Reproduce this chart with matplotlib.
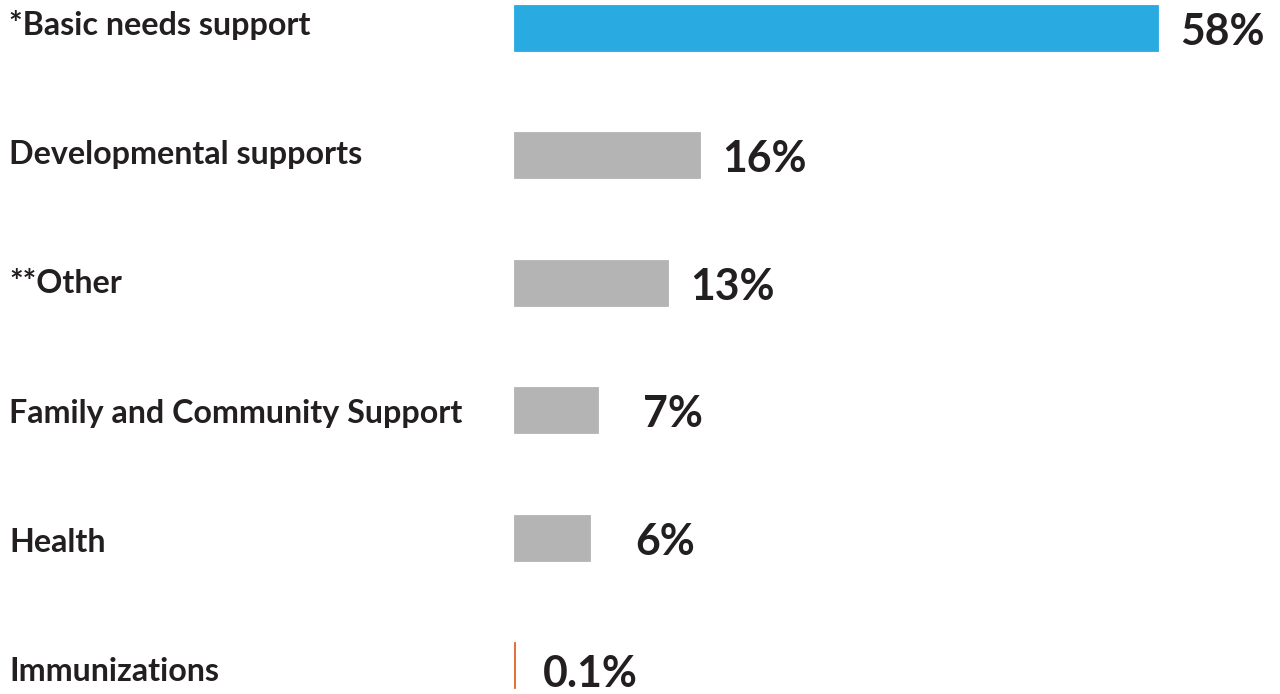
import matplotlib.pyplot as plt
import matplotlib.transforms as mtransforms

categories = ["*Basic needs support", "Developmental supports", "**Other",
              "Family and Community Support", "Health", "Immunizations"]
# bar lengths (the printed labels are rounded)
values = [58, 16.8, 13.9, 7.6, 6.9, 0.1]
value_labels = ["58%", "16%", "13%", "7%", "6%", "0.1%"]
colors = ["#29abe2", "#b4b4b4", "#b4b4b4", "#b4b4b4", "#b4b4b4", "#e8612c"]

plt.rcParams['font.family'] = ['Lato', 'DejaVu Sans']
text_color = "#231f20"

fig = plt.figure(figsize=(12.8, 6.94), dpi=100)
ax = fig.add_axes([0, 0, 1, 1])

ypos = list(range(len(categories)))
ax.barh(ypos, values, height=0.361, color=colors, edgecolor=colors, linewidth=0.6)

# pixel mapping: 0 at x=513.5, 58 at x=1158
scale = (1158 - 513.5) / 58
ax.set_xlim(-513.5 / scale, (1280 - 513.5) / scale)
ax.set_ylim((694 - 28) / 127.4, -28 / 127.4)
ax.axis('off')

trans = mtransforms.blended_transform_factory(ax.transAxes, ax.transData)
for y, cat in zip(ypos, categories):
    ax.annotate(cat, (9 / 1280, y), xycoords=trans,
                xytext=(0, -11 + 4 - 1.8 * y), textcoords='offset pixels',
                ha='left', va='baseline', fontsize=23.2, fontweight='bold',
                color=text_color)

# gap between bar end and label, by label length
pads = {2: 45, 3: 22, 4: 28}
for y, v, lab in zip(ypos, values, value_labels):
    dy = -17 if len(lab) < 4 else -22
    ax.annotate(lab, (v, y), xytext=(pads[len(lab)], dy), textcoords='offset pixels',
                ha='left', va='baseline', fontsize=30.8, fontweight='bold',
                color=text_color)

fig.savefig("out.png", dpi=100)
